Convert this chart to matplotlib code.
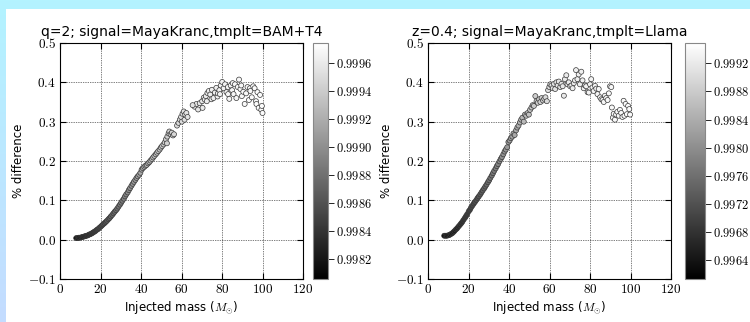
import matplotlib
matplotlib.use("Agg")
import matplotlib.pyplot as plt
import numpy as np
from matplotlib.colors import LinearSegmentedColormap, Normalize
from matplotlib.cm import ScalarMappable
from matplotlib.ticker import FuncFormatter, MultipleLocator

plt.rcParams["mathtext.fontset"] = "cm"

# ---- left panel: q=2, signal=MayaKranc, template=BAM+T4 ----
mass_q2 = [
    8.0, 8.7, 9.3, 10.0, 10.6, 11.2, 11.9, 12.5, 13.1, 13.8,
    14.4, 15.0, 15.7, 16.3, 16.9, 17.5, 18.2, 18.8, 19.4, 20.1,
    20.7, 21.3, 22.0, 22.6, 23.2, 23.9, 24.5, 25.1, 25.8, 26.4,
    27.0, 27.7, 28.3, 28.9, 29.6, 30.2, 30.8, 31.5, 32.1, 32.7,
    33.4, 34.0, 34.6, 35.3, 35.9, 36.5, 37.2, 37.8, 38.4, 39.1,
    39.7, 40.3, 40.9, 41.6, 42.2, 42.8, 43.5, 44.1, 44.7, 45.4,
    46.0, 46.6, 47.3, 47.9, 48.5, 49.2, 49.8, 50.4, 51.1, 51.7,
    52.3, 52.8, 53.0, 53.6, 54.0, 54.6, 55.2, 55.8, 56.3, 57.8,
    58.5, 59.2, 59.8, 60.2, 60.5, 61.1, 61.5, 61.8, 62.4, 63.0,
    66.5, 67.4, 68.2, 69.0, 70.2, 70.4, 71.0, 71.5, 72.0, 72.5,
    72.8, 73.5, 74.2, 74.8, 75.0, 75.8, 76.5, 77.2, 77.8, 78.0,
    78.7, 79.0, 79.4, 80.1, 80.8, 81.5, 82.2, 82.9, 83.0, 83.6,
    84.3, 85.0, 85.3, 85.7, 86.4, 87.1, 87.8, 88.4, 89.1, 89.5,
    89.8, 90.5, 91.2, 91.9, 92.6, 93.3, 93.8, 94.0, 94.7, 95.4,
    96.1, 96.8, 97.0, 97.5, 98.1, 98.8, 99.4, 99.7, 100.0, 65.5,
]
diff_q2 = [
    .004, .004, .005, .005, .006, .007, .008, .009, .010, .011,
    .013, .014, .016, .018, .020, .022, .025, .027, .030, .033,
    .036, .039, .042, .045, .048, .052, .055, .059, .063, .067,
    .071, .075, .079, .084, .089, .094, .099, .104, .110, .115,
    .120, .126, .131, .137, .142, .147, .152, .157, .161, .165,
    .170, .178, .182, .185, .188, .190, .194, .197, .201, .205,
    .209, .213, .217, .221, .225, .229, .234, .238, .242, .247,
    .255, .245, .262, .270, .275, .268, .272, .265, .268, .290,
    .297, .305, .312, .300, .320, .326, .305, .318, .322, .312,
    .338, .345, .331, .347, .352, .335, .361, .356, .365, .352,
    .373, .378, .369, .357, .381, .360, .374, .386, .364, .372,
    .380, .370, .392, .401, .385, .395, .375, .388, .370, .358,
    .392, .380, .398, .370, .395, .360, .388, .407, .383, .392,
    .365, .376, .345, .372, .388, .355, .385, .378, .362, .390,
    .385, .352, .345, .375, .335, .368, .330, .340, .322, .342,
]
match_q2 = [
    .99815, .99818, .99820, .99822, .99824, .99826, .99828, .99830, .99832, .99834,
    .99836, .99838, .99840, .99842, .99844, .99846, .99848, .99850, .99852, .99854,
    .99856, .99858, .99861, .99863, .99865, .99867, .99869, .99871, .99873, .99875,
    .99877, .99879, .99881, .99883, .99885, .99887, .99889, .99891, .99893, .99895,
    .99897, .99899, .99901, .99903, .99905, .99907, .99909, .99911, .99913, .99915,
    .99917, .99918, .99920, .99921, .99923, .99924, .99926, .99927, .99929, .99930,
    .99931, .99932, .99934, .99935, .99936, .99937, .99938, .99939, .99940, .99941,
    .99942, .99943, .99943, .99944, .99945, .99946, .99946, .99947, .99948, .99950,
    .99950, .99951, .99952, .99952, .99953, .99953, .99954, .99954, .99955, .99955,
    .99957, .99958, .99958, .99959, .99960, .99960, .99961, .99961, .99961, .99962,
    .99962, .99962, .99963, .99963, .99963, .99964, .99964, .99964, .99965, .99965,
    .99965, .99965, .99966, .99966, .99966, .99966, .99967, .99967, .99967, .99967,
    .99967, .99968, .99968, .99968, .99968, .99968, .99969, .99969, .99969, .99969,
    .99969, .99969, .99970, .99970, .99970, .99970, .99970, .99970, .99971, .99971,
    .99971, .99971, .99971, .99971, .99972, .99972, .99972, .99972, .99972, .99956,
]
cbar_ticks_q2 = [0.9982, 0.9984, 0.9986, 0.9988, 0.9990, 0.9992, 0.9994, 0.9996]

# ---- right panel: z=0.4, signal=MayaKranc, template=Llama ----
mass_z04 = [
    8.0, 8.7, 9.3, 10.0, 10.6, 11.2, 11.9, 12.5, 13.1, 13.8,
    14.4, 15.0, 15.7, 16.3, 16.9, 17.5, 18.2, 18.8, 19.4, 20.1,
    20.7, 21.3, 22.0, 22.6, 23.2, 23.9, 24.5, 25.1, 25.8, 26.4,
    27.0, 27.7, 28.3, 28.9, 29.6, 30.2, 30.8, 31.5, 32.1, 32.7,
    33.4, 34.0, 34.6, 35.3, 35.9, 36.5, 37.2, 37.8, 38.4, 39.1,
    39.7, 40.3, 40.9, 41.6, 42.2, 42.8, 43.5, 44.1, 44.7, 45.4,
    46.0, 46.6, 47.3, 47.9, 48.5, 49.2, 49.8, 50.4, 51.1, 51.7,
    52.3, 53.0, 53.6, 54.2, 54.9, 55.5, 56.1, 56.8, 57.4, 58.0,
    58.7, 59.3, 59.9, 60.4, 61.0, 61.6, 62.2, 62.8, 63.4, 64.0,
    64.6, 65.3, 65.9, 66.5, 67.1, 67.6, 68.3, 68.9, 69.5, 70.2,
    70.8, 71.4, 72.0, 72.6, 73.1, 73.8, 74.4, 75.0, 75.7, 76.3,
    76.9, 77.5, 78.1, 78.8, 79.4, 80.0, 80.6, 81.2, 81.8, 82.5,
    83.1, 83.7, 84.3, 85.0, 85.6, 86.2, 86.8, 87.4, 88.0, 88.7,
    89.3, 89.9, 90.5, 90.8, 91.3, 91.7, 92.3, 92.9, 93.5, 94.2,
    94.8, 95.4, 96.0, 96.6, 97.0, 97.6, 98.2, 98.8, 99.4, 99.8,
]
diff_z04 = [
    .010, .010, .010, .011, .012, .014, .016, .019, .022, .026,
    .029, .033, .037, .041, .045, .050, .055, .060, .065, .072,
    .076, .082, .087, .092, .096, .101, .106, .110, .115, .120,
    .125, .130, .135, .140, .146, .151, .157, .163, .169, .175,
    .181, .187, .192, .199, .205, .210, .217, .224, .229, .235,
    .248, .252, .258, .262, .270, .266, .278, .285, .290, .298,
    .305, .310, .300, .318, .315, .322, .318, .330, .336, .342,
    .340, .365, .352, .348, .357, .350, .360, .354, .358, .362,
    .352, .380, .388, .395, .392, .385, .396, .383, .400, .392,
    .402, .388, .396, .390, .366, .408, .418, .395, .400, .390,
    .392, .385, .398, .405, .431, .408, .420, .395, .427, .405,
    .385, .392, .390, .375, .374, .395, .408, .387, .378, .391,
    .384, .370, .383, .362, .357, .355, .350, .366, .360, .355,
    .372, .390, .388, .336, .310, .320, .305, .318, .325, .315,
    .330, .322, .312, .353, .315, .345, .319, .340, .332, .318,
]
match_z04 = [
    .99620, .99624, .99628, .99632, .99636, .99640, .99644, .99648, .99652, .99656,
    .99660, .99664, .99668, .99672, .99676, .99680, .99684, .99688, .99692, .99696,
    .99700, .99704, .99708, .99712, .99716, .99720, .99724, .99728, .99732, .99736,
    .99740, .99744, .99748, .99752, .99756, .99760, .99764, .99768, .99772, .99776,
    .99780, .99784, .99788, .99792, .99796, .99800, .99804, .99808, .99812, .99816,
    .99820, .99823, .99826, .99829, .99832, .99835, .99838, .99841, .99844, .99847,
    .99850, .99853, .99856, .99859, .99862, .99865, .99868, .99871, .99874, .99877,
    .99880, .99882, .99884, .99886, .99888, .99890, .99892, .99894, .99896, .99898,
    .99900, .99902, .99904, .99906, .99908, .99910, .99911, .99912, .99913, .99914,
    .99915, .99916, .99917, .99918, .99919, .99920, .99921, .99922, .99923, .99924,
    .99925, .99926, .99926, .99927, .99927, .99928, .99928, .99929, .99929, .99930,
    .99930, .99931, .99931, .99932, .99932, .99933, .99933, .99934, .99934, .99935,
    .99935, .99935, .99936, .99936, .99936, .99937, .99937, .99937, .99938, .99938,
    .99938, .99938, .99939, .99939, .99939, .99939, .99940, .99940, .99940, .99940,
    .99941, .99941, .99941, .99941, .99941, .99942, .99942, .99942, .99942, .99942,
]
cbar_ticks_z04 = [0.9964, 0.9968, 0.9972, 0.9976, 0.9980, 0.9984, 0.9988, 0.9992]

panels = [
    ("q=2; signal=MayaKranc,tmplt=BAM+T4", mass_q2, diff_q2, match_q2,
     (0.99806, 0.99974), cbar_ticks_q2, 60, 313, 15),
    ("z=0.4; signal=MayaKranc,tmplt=Llama", mass_z04, diff_z04, match_z04,
     (0.99613, 0.99949), cbar_ticks_z04, 428, 685, 20),
]

W, H = 750, 322
fig = plt.figure(figsize=(W / 100, H / 100), dpi=100)

# slide background: cyan strip on top / left, white panel
bg = fig.add_axes([0, 0, 1, 1], zorder=-10)
grad = np.linspace(0, 1, 256)[:, None]
bg_cmap = LinearSegmentedColormap.from_list("bg", ["#b3f3ff", "#c4dcff"])
bg.imshow(grad, cmap=bg_cmap, aspect="auto", extent=[0, 1, 0, 1])
bg.add_patch(plt.Rectangle((6 / W, 0), 1, (H - 9) / H, color="white", lw=0))
bg.set_xlim(0, 1)
bg.set_ylim(0, 1)
bg.axis("off")

cmap = plt.get_cmap("gray")
y_fmt = FuncFormatter(lambda v, p: f"${v:.1f}$" if abs(v) > 1e-9 else "$0.0$")
x_fmt = FuncFormatter(lambda v, p: f"${v:.0f}$")
c_fmt = FuncFormatter(lambda v, p: f"${v:.4f}$")

ax_bottom = (H - 279) / H
ax_height = 236 / H

for title, m, d, c, (vmin, vmax), cticks, x0, cx0, cw in panels:
    ax = fig.add_axes([x0 / W, ax_bottom, 243 / W, ax_height])
    norm = Normalize(vmin=vmin, vmax=vmax)
    ax.scatter(m, d, s=13, c=cmap(norm(np.array(c))), edgecolors="#3a3a3a",
               linewidths=0.5, zorder=3)
    ax.set_xlim(0, 120)
    ax.set_ylim(-0.1, 0.5)
    ax.xaxis.set_major_locator(MultipleLocator(20))
    ax.yaxis.set_major_locator(MultipleLocator(0.1))
    ax.xaxis.set_major_formatter(x_fmt)
    ax.yaxis.set_major_formatter(y_fmt)
    ax.grid(True, color="black", linestyle=(0, (1, 1.5)), linewidth=0.5)
    ax.tick_params(direction="in", top=True, right=True, length=4,
                   labelsize=9.5, pad=3)
    for s in ax.spines.values():
        s.set_linewidth(0.8)
    ax.set_title(title, fontsize=10, pad=5)
    ax.set_xlabel(r"Injected mass ($M_{\odot}$)", fontsize=8.5, labelpad=2)
    ax.set_ylabel("% difference", fontsize=8.5, labelpad=2)

    cax = fig.add_axes([cx0 / W, ax_bottom, cw / W, ax_height])
    cb = fig.colorbar(ScalarMappable(norm=norm, cmap=cmap), cax=cax,
                      ticks=cticks)
    cb.ax.yaxis.set_major_formatter(c_fmt)
    cb.ax.tick_params(labelsize=9, length=4, width=0.6, pad=2)
    cb.outline.set_edgecolor("#888888")
    cb.outline.set_linewidth(0.8)

fig.savefig("out.png", dpi=100)
